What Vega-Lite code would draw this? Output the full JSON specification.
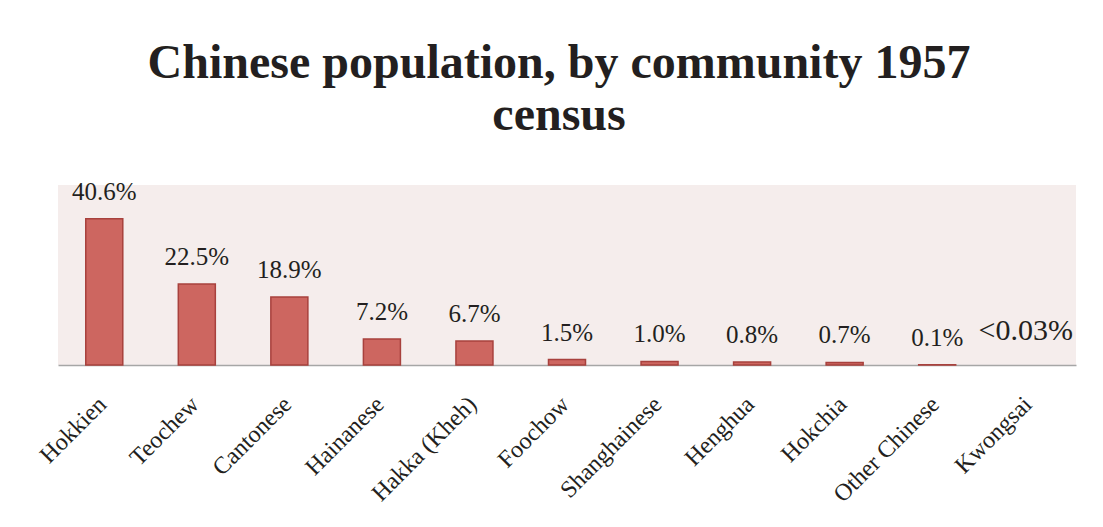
{
  "$schema": "https://vega.github.io/schema/vega-lite/v6.json",
  "autosize": {"type": "none"},
  "width": 1018,
  "height": 180,
  "padding": {"left": 58, "top": 185, "right": 27, "bottom": 162},
  "background": "#FFFFFF",
  "title": {
    "text": ["Chinese population, by community 1957", "census"],
    "font": "Liberation Serif",
    "fontSize": 48,
    "fontWeight": "bold",
    "lineHeight": 52,
    "color": "#231F20",
    "anchor": "middle",
    "dx": -8,
    "offset": 40
  },
  "data": {
    "values": [
      {"community": "Hokkien", "share": 40.6, "label": "40.6%"},
      {"community": "Teochew", "share": 22.5, "label": "22.5%"},
      {"community": "Cantonese", "share": 18.9, "label": "18.9%"},
      {"community": "Hainanese", "share": 7.2, "label": "7.2%"},
      {"community": "Hakka (Kheh)", "share": 6.7, "label": "6.7%"},
      {"community": "Foochow", "share": 1.5, "label": "1.5%"},
      {"community": "Shanghainese", "share": 1.0, "label": "1.0%"},
      {"community": "Henghua", "share": 0.8, "label": "0.8%"},
      {"community": "Hokchia", "share": 0.7, "label": "0.7%"},
      {"community": "Other Chinese", "share": 0.1, "label": "0.1%"},
      {"community": "Kwongsai", "share": 0.03, "label": "<0.03%"}
    ]
  },
  "encoding": {
    "x": {
      "field": "community",
      "type": "nominal",
      "sort": null,
      "scale": {"paddingInner": 0.6, "paddingOuter": 0.3},
      "axis": {
        "title": null,
        "labelAngle": -45,
        "labelAlign": "right",
        "labelBaseline": "top",
        "labelPadding": 27,
        "labelOffset": -10,
        "labelFont": "Liberation Serif",
        "labelFontSize": 24,
        "labelColor": "#231F20",
        "ticks": false,
        "domainColor": "#A6A6A6",
        "domainWidth": 1.5,
        "labelOverlap": false,
        "labelLimit": 0
      }
    },
    "y": {
      "field": "share",
      "type": "quantitative",
      "scale": {"domain": [0, 50], "nice": false},
      "axis": null
    }
  },
  "layer": [
    {
      "mark": {"type": "bar", "color": "#CD6660", "strokeWidth": 1.5},
      "encoding": {
        "stroke": {"condition": {"test": "datum.share < 0.05", "value": null}, "value": "#A8413D"}
      }
    },
    {
      "transform": [{"filter": "datum.community !== 'Kwongsai'"}],
      "mark": {"type": "text", "baseline": "alphabetic", "dy": -19, "font": "Liberation Serif", "fontSize": 25, "color": "#231F20"},
      "encoding": {"text": {"field": "label"}}
    },
    {
      "transform": [{"filter": "datum.community === 'Kwongsai'"}],
      "mark": {"type": "text", "baseline": "alphabetic", "dy": -25, "dx": -4, "font": "Liberation Serif", "fontSize": 30, "color": "#231F20"},
      "encoding": {"text": {"field": "label"}}
    }
  ],
  "config": {
    "view": {"fill": "#F5EDEC", "stroke": null}
  }
}
